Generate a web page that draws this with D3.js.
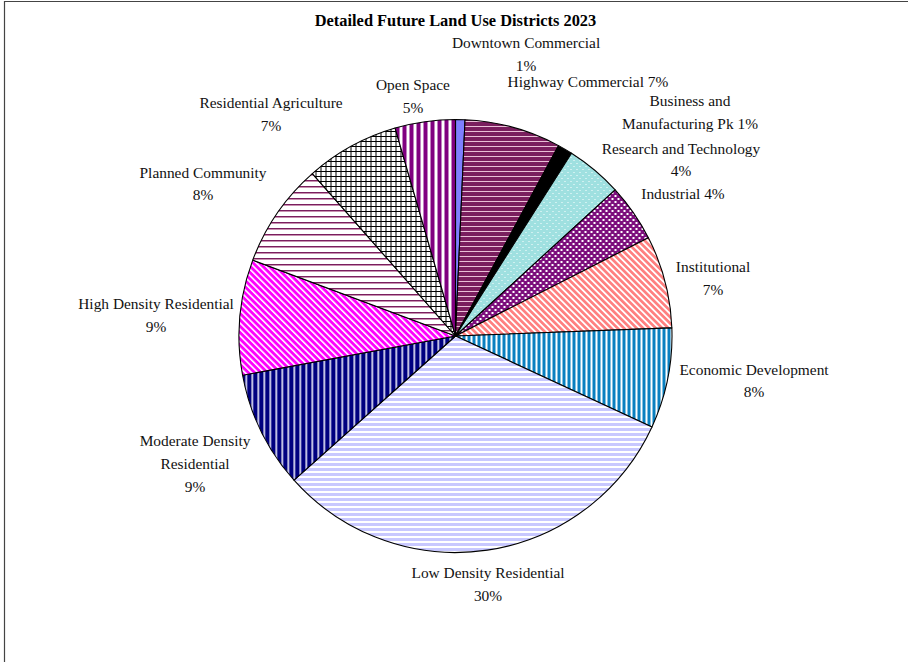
<!DOCTYPE html>
<html>
<head>
<meta charset="utf-8">
<script src="https://cdn.jsdelivr.net/npm/d3@7"></script>
<style>
  html, body { margin: 0; padding: 0; background: #fff; }
  svg { display: block; }
  text { font-family: "Liberation Serif", "DejaVu Serif", serif; }
</style>
</head>
<body>
<svg id="chart" width="908" height="662"></svg>
<script>
// ---- data ----
const categories = [
  "Downtown Commercial", "Highway Commercial", "Business and Manufacturing Pk",
  "Research and Technology", "Industrial", "Institutional", "Economic Development",
  "Low Density Residential", "Moderate Density Residential", "High Density Residential",
  "Planned Community", "Residential Agriculture", "Open Space"
];
const shares = [0.7, 7.2, 1.1, 4.2, 4.3, 6.9, 7.5, 31.5, 8.7, 8.6, 7.8, 7.0, 4.5];
const pctLabels = ["1%", "7%", "1%", "4%", "4%", "7%", "8%", "30%", "9%", "9%", "8%", "7%", "5%"];
const labelLines = [
  ["Downtown Commercial", "1%"],
  ["Highway Commercial 7%"],
  ["Business and", "Manufacturing Pk 1%"],
  ["Research and Technology", "4%"],
  ["Industrial 4%"],
  ["Institutional", "7%"],
  ["Economic Development", "8%"],
  ["Low Density Residential", "30%"],
  ["Moderate Density", "Residential", "9%"],
  ["High Density Residential", "9%"],
  ["Planned Community", "8%"],
  ["Residential Agriculture", "7%"],
  ["Open Space", "5%"]
];
const title = "Detailed Future Land Use Districts 2023";

// ---- layout / style ----
const W = 908, H = 662;
const cx = 455.5, cy = 336, R = 216.5;
const labelR = 270;
// nudges from label-radius centroid to block centre (Excel-like placement)
const labelNudge = [
  [64.6, -11.6], [60.4, 6.2], [97.8, 9.3], [52.1, 31], [5.6, 11.9], [-3.8, 10.5], [33.8, -8.1],
  [-7.2, -18.6], [-18, 9.2], [-30.5, 3.2], [-30.1, 1.1], [-54.4, 15.1], [-4.5, 27.8]
];

const svg = d3.select("#chart");
const defs = svg.append("defs");

function stripes(id, bg, fg, size, fgW, orient, rot) {
  const p = defs.append("pattern").attr("id", id)
    .attr("patternUnits", "userSpaceOnUse")
    .attr("width", size).attr("height", size);
  if (rot) p.attr("patternTransform", `rotate(${rot})`);
  p.append("rect").attr("width", size).attr("height", size).attr("fill", bg);
  if (orient === "h") p.append("rect").attr("x", 0).attr("y", 0).attr("width", size).attr("height", fgW).attr("fill", fg);
  else p.append("rect").attr("x", 0).attr("y", 0).attr("width", fgW).attr("height", size).attr("fill", fg);
  return `url(#${id})`;
}

const fills = [];
// 0 Downtown: solid periwinkle
fills.push("#7f7fff");
// 1 Highway: plum with light horizontal lines
fills.push(stripes("p1", "#7a1e5e", "#e9bfd6", 5, 1, "h"));
// 2 Business: black
fills.push("#000000");
// 3 Research: teal with white dots
{
  const p = defs.append("pattern").attr("id", "p3").attr("patternUnits", "userSpaceOnUse").attr("width", 6).attr("height", 6);
  p.append("rect").attr("width", 6).attr("height", 6).attr("fill", "#9fe0e0");
  p.append("rect").attr("x", 1).attr("y", 1).attr("width", 1).attr("height", 1).attr("fill", "#fff");
  p.append("rect").attr("x", 4).attr("y", 4).attr("width", 1).attr("height", 1).attr("fill", "#fff");
  fills.push("url(#p3)");
}
// 4 Industrial: purple small checker
{
  const p = defs.append("pattern").attr("id", "p4").attr("patternUnits", "userSpaceOnUse").attr("width", 6).attr("height", 6);
  p.append("rect").attr("width", 6).attr("height", 6).attr("fill", "#7d0f7d");
  p.append("rect").attr("x", 0).attr("y", 0).attr("width", 2).attr("height", 2).attr("fill", "#fff");
  p.append("rect").attr("x", 3).attr("y", 3).attr("width", 2).attr("height", 2).attr("fill", "#fff");
  fills.push("url(#p4)");
}
// 5 Institutional: salmon diagonal
fills.push(stripes("p5", "#ff8080", "#ffffff", 4.5, 1.8, "v", -45));
// 6 Economic: blue vertical
fills.push(stripes("p6", "#0a80c0", "#ffffff", 5, 2, "v"));
// 7 Low density: lavender horizontal
fills.push(stripes("p7", "#c8c8ff", "#ffffff", 5, 2, "h"));
// 8 Moderate: navy vertical with thin white
{
  const p = defs.append("pattern").attr("id", "p8").attr("patternUnits", "userSpaceOnUse").attr("width", 6).attr("height", 6);
  p.append("rect").attr("width", 6).attr("height", 6).attr("fill", "#000080");
  p.append("rect").attr("x", 0).attr("width", 1).attr("height", 6).attr("fill", "#ffffff");
  p.append("rect").attr("x", 1).attr("width", 1).attr("height", 6).attr("fill", "#8080c8");
  fills.push("url(#p8)");
}
// 9 High: magenta diagonal
fills.push(stripes("p9", "#ff00ff", "#ffffff", 4.5, 1.6, "v", -45));
// 10 Planned: white with plum horizontal lines
{
  const p = defs.append("pattern").attr("id", "p10").attr("patternUnits", "userSpaceOnUse").attr("width", 6).attr("height", 6);
  p.append("rect").attr("width", 6).attr("height", 6).attr("fill", "#ffffff");
  p.append("rect").attr("y", 0).attr("width", 6).attr("height", 1).attr("fill", "#7a1e5e");
  p.append("rect").attr("y", 1).attr("width", 6).attr("height", 1).attr("fill", "#c890b0");
  fills.push("url(#p10)");
}
// 11 Residential Agriculture: white with black grid
{
  const p = defs.append("pattern").attr("id", "p11").attr("patternUnits", "userSpaceOnUse").attr("width", 5).attr("height", 5);
  p.append("rect").attr("width", 5).attr("height", 5).attr("fill", "#ffffff");
  p.append("rect").attr("width", 5).attr("height", 1).attr("fill", "#000");
  p.append("rect").attr("width", 1).attr("height", 5).attr("fill", "#000");
  fills.push("url(#p11)");
}
// 12 Open Space: purple vertical wide
fills.push(stripes("p12", "#800080", "#ffffff", 7, 3, "v"));

// frame
svg.append("path")
  .attr("d", `M4.5,${H + 5} L4.5,1.5 L${W + 5},1.5`)
  .attr("fill", "none").attr("stroke", "#444").attr("stroke-width", 1.2);

// title
svg.append("text")
  .attr("x", cx).attr("y", 26)
  .attr("text-anchor", "middle")
  .attr("font-weight", "bold").attr("font-size", 16.4)
  .text(title);

// pie
const pie = d3.pie().sort(null).value(d => d)(shares);
const arc = d3.arc().innerRadius(0).outerRadius(R);
const labelArc = d3.arc().innerRadius(labelR).outerRadius(labelR);

const g = svg.append("g").attr("transform", `translate(${cx},${cy})`);
g.selectAll("path.slice").data(pie).join("path")
  .attr("class", "slice")
  .attr("d", arc)
  .attr("fill", (d, i) => fills[i])
  .attr("stroke", "#000").attr("stroke-width", 1.1).attr("stroke-linejoin", "round");

// labels
const lineH = 22.8;
const lg = g.selectAll("g.lab").data(pie).join("g").attr("class", "lab")
  .attr("transform", (d, i) => {
    const [x, y] = labelArc.centroid(d);
    return `translate(${x + labelNudge[i][0]},${y + labelNudge[i][1]})`;
  });
lg.each(function (d, i) {
  const lines = labelLines[i];
  const n = lines.length;
  const t = d3.select(this).append("text")
    .attr("text-anchor", "middle")
    .attr("font-size", 15.4)
    .attr("fill", "#111");
  lines.forEach((s, k) => {
    t.append("tspan").attr("x", 0)
      .attr("y", (k - (n - 1) / 2) * lineH + 5)
      .text(s);
  });
});
</script>
</body>
</html>
